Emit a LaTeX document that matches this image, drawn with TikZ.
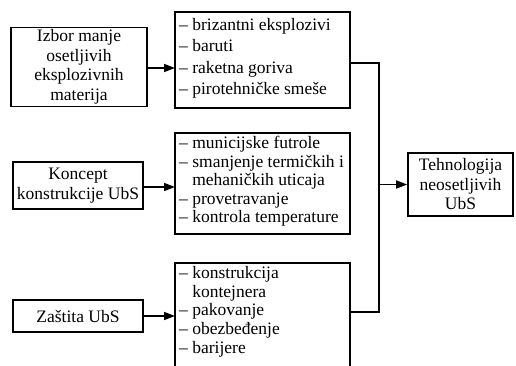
\documentclass[tikz,border=0pt]{standalone}
\usepackage{fontspec}
\setmainfont{Liberation Serif}
\usetikzlibrary{arrows.meta}

\tikzset{
  blok/.style={draw, line width=1.6pt, inner sep=0pt, align=center,
    font=\fontsize{17.5}{19.5}\selectfont},
  lista/.style={anchor=north west, align=left, inner sep=0pt},
  veza/.style={line width=1.6pt},
  strel/.style={veza, -{Triangle[length=11pt,width=8pt]}}
}
\newcommand{\crt}{--\ }
\newcommand{\uvl}{\phantom{--\ }}

\begin{document}
\begin{tikzpicture}[x=1pt,y=1pt]
  \path[use as bounding box] (0,0) rectangle (516,365);

  % levi blokovi
  \node[blok, minimum width=136, minimum height=79] (izbor) at (79,298)
    {Izbor manje\\osetljivih\\eksplozivnih\\materija};
  \node[blok, minimum width=130, minimum height=47] (koncept) at (78,179.5)
    {Koncept\\konstrukcije UbS};
  \node[blok, minimum width=130, minimum height=32] (zastita) at (78,49)
    {Zaštita UbS};

  % srednji blokovi
  \draw[veza] (175,257) rectangle (350,353);
  \node[lista, font=\fontsize{17.5}{21.5}\selectfont] (eksp) at (179,347)
    {\crt brizantni eksplozivi\\\crt baruti\\\crt raketna goriva\\\crt pirotehničke smeše};
  \coordinate (mb1) at (350,302);

  \draw[veza] (175,131) rectangle (350,232);
  \node[lista, font=\fontsize{17.5}{18.5}\selectfont] (konstr) at (179,229)
    {\crt municijske futrole\\\crt smanjenje termičkih i\\\uvl mehaničkih uticaja\\\crt provetravanje\\\crt kontrola temperature};

  \draw[veza] (175,-20) -- (175,102) -- (350,102) -- (350,-20);
  \node[lista, font=\fontsize{17.5}{18.75}\selectfont] (zast) at (179,99)
    {\crt konstrukcija\\\uvl kontejnera\\\crt pakovanje\\\crt obezbeđenje\\\crt barijere};
  \coordinate (mb3) at (350,53);

  % desni blok
  \node[blok, minimum width=105, minimum height=63] (tehn) at (460.5,180.5)
    {Tehnologija\\neosetljivih\\UbS};

  % strelice
  \draw[strel] (izbor.east |- 0,297) -- (175,297);
  \draw[strel] (koncept.east |- 0,178) -- (175,178);
  \draw[strel] (zastita.east |- 0,49) -- (175,49);

  \coordinate (bus) at (379,0);
  \draw[veza] (mb1) -| (bus |- mb1) -- (bus |- mb3) -- (mb3);
  \draw[strel] (bus |- tehn) -- (tehn.west);
\end{tikzpicture}
\end{document}
